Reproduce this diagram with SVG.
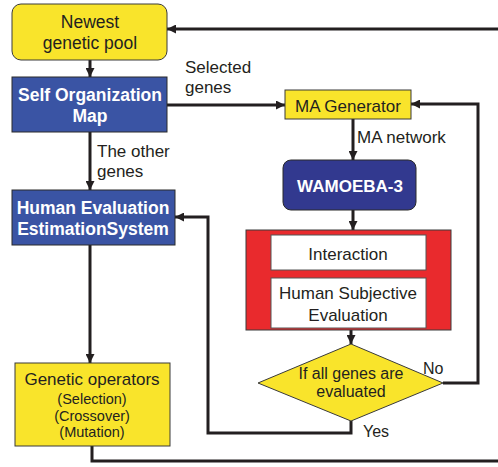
<svg xmlns="http://www.w3.org/2000/svg" width="498" height="467" viewBox="0 0 498 467">
<defs>
<marker id="ah" viewBox="0 0 10 10" refX="10" refY="5" markerWidth="3" markerHeight="3" orient="auto" markerUnits="strokeWidth">
<path d="M0,0 L10,5 L0,10 z" fill="#231f20"/>
</marker>
<style>
.t{font-family:"Liberation Sans",Arial,sans-serif;fill:#231f20;text-anchor:middle}
.l{font-family:"Liberation Sans",Arial,sans-serif;fill:#231f20}
.w{font-family:"Liberation Sans",Arial,sans-serif;fill:#ffffff;font-weight:bold;text-anchor:middle}
.y{fill:#f9e42b;stroke:#3a3a3a;stroke-width:1}
.b{fill:#3a54a4;stroke:#2a2a2a;stroke-width:1}
.c{fill:none;stroke:#231f20;stroke-width:3}
</style>
</defs>
<rect width="498" height="467" fill="#ffffff"/>
<g id="connectors">
<line class="c" x1="90" y1="60" x2="90" y2="77" marker-end="url(#ah)"/>
<line class="c" x1="90" y1="132" x2="90" y2="190" marker-end="url(#ah)"/>
<line class="c" x1="90" y1="245" x2="90" y2="363" marker-end="url(#ah)"/>
<polyline class="c" points="92,446 92,461 498,461"/>
<line class="c" x1="498" y1="29" x2="167" y2="29" marker-end="url(#ah)"/>
<line class="c" x1="167" y1="105" x2="285" y2="105" marker-end="url(#ah)"/>
<line class="c" x1="353" y1="119" x2="353" y2="160" marker-end="url(#ah)"/>
<line class="c" x1="353" y1="210" x2="353" y2="230" marker-end="url(#ah)"/>
<line class="c" x1="351" y1="330" x2="351" y2="344" marker-end="url(#ah)"/>
<polyline class="c" points="443,383 478,383 478,104 411,104" marker-end="url(#ah)"/>
<polyline class="c" points="351,421 351,433 208,433 208,217 175,217" marker-end="url(#ah)"/>
<text class="l" x="185" y="73" font-size="17">Selected</text>
<text class="l" x="185" y="93" font-size="17">genes</text>
<text class="l" x="97" y="157" font-size="17">The other</text>
<text class="l" x="97" y="177" font-size="17">genes</text>
<text class="l" x="357" y="143" font-size="17">MA network</text>
<text class="l" x="423" y="374" font-size="16">No</text>
<text class="l" x="363" y="437" font-size="16">Yes</text>
</g>
<g id="pool">
<rect class="y" x="12" y="4" width="155" height="56" rx="9"/>
<text class="t" x="90" y="28" font-size="17.5">Newest</text>
<text class="t" x="90" y="49" font-size="17.5">genetic pool</text>
</g>
<g id="som">
<rect class="b" x="12" y="77" width="155" height="55"/>
<text class="w" x="90" y="101" font-size="17.5">Self Organization</text>
<text class="w" x="90" y="122" font-size="17.5">Map</text>
</g>
<g id="hees">
<rect class="b" x="12" y="190" width="163" height="55"/>
<text class="w" x="93" y="214" font-size="17.5">Human Evaluation</text>
<text class="w" x="93" y="235" font-size="17.5">EstimationSystem</text>
</g>
<g id="genetic">
<rect class="y" x="15" y="363" width="155" height="83"/>
<text class="t" x="92" y="385" font-size="17">Genetic operators</text>
<text class="t" x="92" y="404" font-size="14.5">(Selection)</text>
<text class="t" x="92" y="421" font-size="14.5">(Crossover)</text>
<text class="t" x="92" y="437" font-size="14.5">(Mutation)</text>
</g>
<g id="magen">
<rect class="y" x="285" y="90" width="126" height="29"/>
<text class="t" x="348" y="112" font-size="17">MA Generator</text>
</g>
<g id="wamoeba">
<rect x="283" y="160" width="133" height="50" rx="8" fill="#32398f" stroke="#2a2a2a" stroke-width="1"/>
<text class="w" x="350" y="192" font-size="17">WAMOEBA-3</text>
</g>
<g id="interaction">
<rect x="246" y="230" width="205" height="100" fill="#e92a2d" stroke="#3a3a3a" stroke-width="1"/>
<rect x="271" y="235" width="155" height="35" fill="#ffffff" stroke="#555" stroke-width="1"/>
<text class="t" x="348" y="260" font-size="17">Interaction</text>
<rect x="271" y="278" width="155" height="50" fill="#ffffff" stroke="#555" stroke-width="1"/>
<text class="t" x="348" y="299" font-size="17">Human Subjective</text>
<text class="t" x="348" y="321" font-size="17">Evaluation</text>
</g>
<g id="decision">
<polygon class="y" points="351,344 443,383 351,421 258,383"/>
<text class="t" x="351" y="379" font-size="16">If all genes are</text>
<text class="t" x="351" y="397" font-size="16">evaluated</text>
</g>
</svg>
